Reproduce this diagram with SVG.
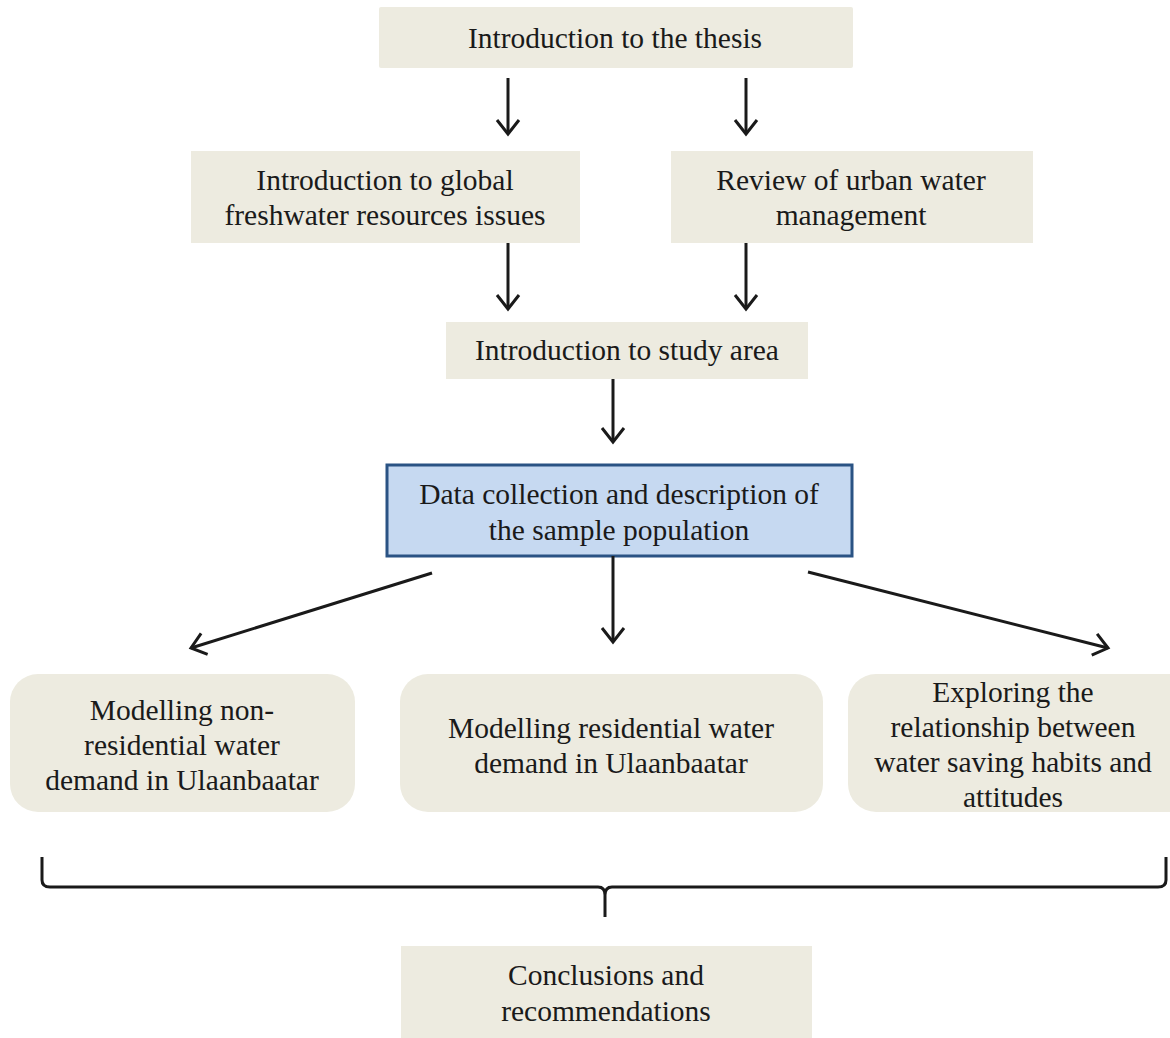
<svg xmlns="http://www.w3.org/2000/svg" width="1170" height="1038" viewBox="0 0 1170 1038">
<style>
.box{fill:#EDEBE0;}
.blue{fill:#C6D9F1;stroke:#2A5384;stroke-width:3;}
.t{font-family:'Liberation Serif','DejaVu Serif',serif;font-size:29.5px;fill:#1a1a1a;text-anchor:middle;}
.c{stroke:#1a1a1a;stroke-width:3;fill:none;}
</style>
<defs>
<marker id="ah" markerUnits="userSpaceOnUse" markerWidth="30" markerHeight="30" refX="16" refY="12" orient="auto" viewBox="0 0 30 24">
<path d="M2,1 L16,12 L2,23" fill="none" stroke="#1a1a1a" stroke-width="3"/>
</marker>
</defs>
<rect width="1170" height="1038" fill="#ffffff"/>
<g id="n1"><rect class="box" x="379" y="7" width="474" height="61" rx="2"/><text class="t" x="615" y="48">Introduction to the thesis</text></g>
<g id="n2"><rect class="box" x="191" y="151" width="389" height="92"/><text class="t" x="385" y="190">Introduction to global</text><text class="t" x="385" y="225">freshwater resources issues</text></g>
<g id="n3"><rect class="box" x="671" y="151" width="362" height="92"/><text class="t" x="851" y="190">Review of urban water</text><text class="t" x="851" y="225">management</text></g>
<g id="n4"><rect class="box" x="446" y="322" width="362" height="57"/><text class="t" x="627" y="360">Introduction to study area</text></g>
<g id="n5"><rect class="blue" x="387" y="465" width="465" height="91"/><text class="t" x="619" y="504">Data collection and description of</text><text class="t" x="619" y="540">the sample population</text></g>
<g id="n6"><rect class="box" x="10" y="674" width="345" height="138" rx="28"/><text class="t" x="182" y="720">Modelling non-</text><text class="t" x="182" y="755">residential water</text><text class="t" x="182" y="790">demand in Ulaanbaatar</text></g>
<g id="n7"><rect class="box" x="400" y="674" width="423" height="138" rx="28"/><text class="t" x="611" y="738">Modelling residential water</text><text class="t" x="611" y="773">demand in Ulaanbaatar</text></g>
<g id="n8"><rect class="box" x="848" y="674" width="350" height="138" rx="28"/><text class="t" x="1013" y="702">Exploring the</text><text class="t" x="1013" y="737">relationship between</text><text class="t" x="1013" y="772">water saving habits and</text><text class="t" x="1013" y="807">attitudes</text></g>
<g id="n9"><rect class="box" x="401" y="946" width="411" height="92"/><text class="t" x="606" y="985">Conclusions and</text><text class="t" x="606" y="1021">recommendations</text></g>
<g id="connectors">
<line class="c" x1="508" y1="78" x2="508" y2="134" marker-end="url(#ah)"/>
<line class="c" x1="746" y1="78" x2="746" y2="134" marker-end="url(#ah)"/>
<line class="c" x1="508" y1="243" x2="508" y2="309" marker-end="url(#ah)"/>
<line class="c" x1="746" y1="243" x2="746" y2="309" marker-end="url(#ah)"/>
<line class="c" x1="613" y1="379" x2="613" y2="442" marker-end="url(#ah)"/>
<line class="c" x1="432" y1="573" x2="191" y2="648" marker-end="url(#ah)"/>
<line class="c" x1="613" y1="556" x2="613" y2="642" marker-end="url(#ah)"/>
<line class="c" x1="808" y1="572" x2="1108" y2="648" marker-end="url(#ah)"/>
<path class="c" d="M42,857 L42,880 Q42,887 50,887 L598,887 Q605,887 605,895 L605,917 M605,917 L605,895 Q605,887 612,887 L1158,887 Q1166,887 1166,880 L1166,857"/>
</g>
</svg>
